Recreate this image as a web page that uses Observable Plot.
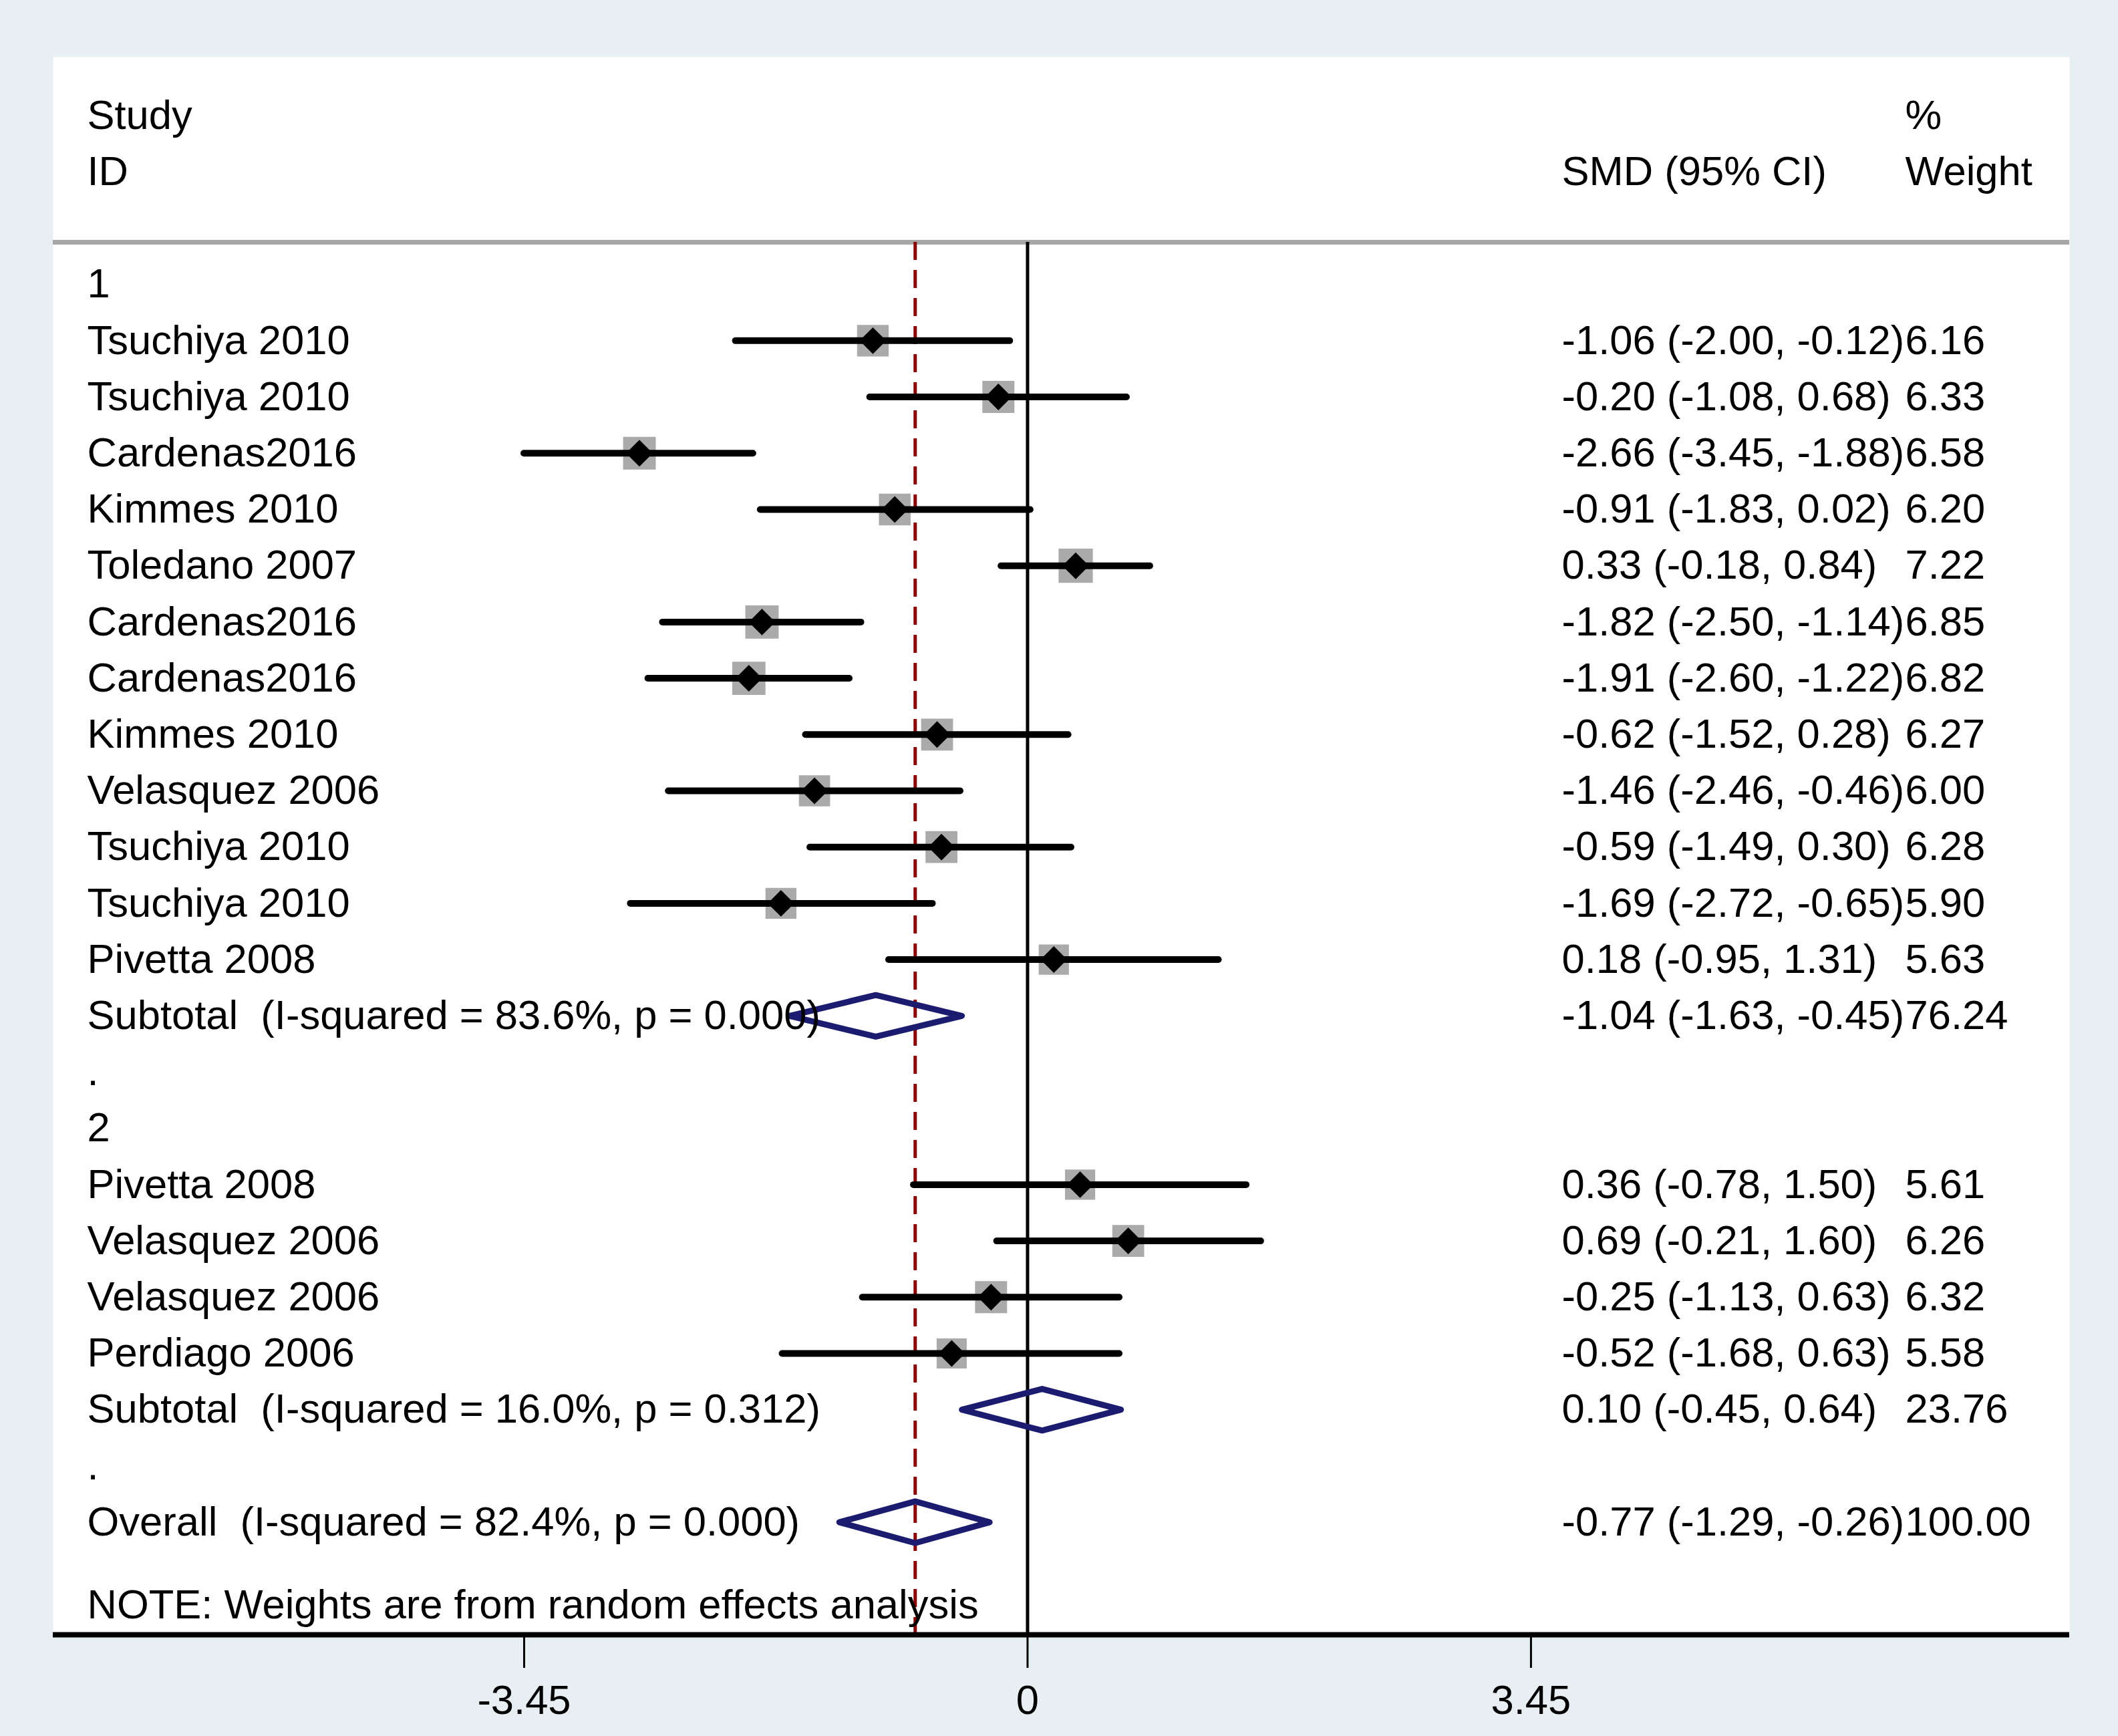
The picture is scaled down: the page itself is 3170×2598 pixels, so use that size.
<!DOCTYPE html>
<html>
<head>
<meta charset="utf-8">
<script src="https://cdn.jsdelivr.net/npm/d3@7"></script>
<script src="https://cdn.jsdelivr.net/npm/@observablehq/plot@0.6"></script>
<style>
  html, body { margin: 0; padding: 0; background: #e7eff2; }
</style>
</head>
<body>
<div id="chart"></div>
<script>
// ---- Study-level data (standardized mean differences, 95% CI, % weight) ----
const studyNames = [
  "Tsuchiya 2010", "Tsuchiya 2010", "Cardenas2016", "Kimmes 2010", "Toledano 2007",
  "Cardenas2016", "Cardenas2016", "Kimmes 2010", "Velasquez 2006", "Tsuchiya 2010",
  "Tsuchiya 2010", "Pivetta 2008",
  "Pivetta 2008", "Velasquez 2006", "Velasquez 2006", "Perdiago 2006"
];
const studyGroup = [1, 1, 1, 1, 1, 1, 1, 1, 1, 1, 1, 1, 2, 2, 2, 2];
const studySmd   = [-1.06, -0.20, -2.66, -0.91, 0.33, -1.82, -1.91, -0.62, -1.46, -0.59, -1.69, 0.18, 0.36, 0.69, -0.25, -0.52];
const studyLower = [-2.00, -1.08, -3.45, -1.83, -0.18, -2.50, -2.60, -1.52, -2.46, -1.49, -2.72, -0.95, -0.78, -0.21, -1.13, -1.68];
const studyUpper = [-0.12, 0.68, -1.88, 0.02, 0.84, -1.14, -1.22, 0.28, -0.46, 0.30, -0.65, 1.31, 1.50, 1.60, 0.63, 0.63];
const studyWeight = [6.16, 6.33, 6.58, 6.20, 7.22, 6.85, 6.82, 6.27, 6.00, 6.28, 5.90, 5.63, 5.61, 6.26, 6.32, 5.58];

// ---- Pooled estimates (subgroup 1, subgroup 2, overall) ----
const groups = [1, 2];
const subtotalLabels = [
  "Subtotal\u00a0\u00a0(I-squared = 83.6%, p = 0.000)",
  "Subtotal\u00a0\u00a0(I-squared = 16.0%, p = 0.312)"
];
const subtotalSmd    = [-1.04, 0.10];
const subtotalLower  = [-1.63, -0.45];
const subtotalUpper  = [-0.45, 0.64];
const subtotalWeight = [76.24, 23.76];

const overallLabel  = "Overall\u00a0\u00a0(I-squared = 82.4%, p = 0.000)";
const overallSmd    = -0.77;
const overallLower  = -1.29;
const overallUpper  = -0.26;
const overallWeight = 100.00;

const noteText = "NOTE: Weights are from random effects analysis";
const xTicks = [-3.45, 0, 3.45];

// ---- Build the table rows (row index runs top to bottom) ----
const f2 = v => v.toFixed(2);
const ciText = (e, lo, hi) => `${f2(e)} (${f2(lo)}, ${f2(hi)})`;

const rows = [];
const studies = [];
const pooled = [];
let r = 0;
groups.forEach((g, gi) => {
  rows.push({row: r++, label: String(g)});
  studyNames.forEach((name, i) => {
    if (studyGroup[i] !== g) return;
    const d = {row: r++, label: name, smd: studySmd[i], lo: studyLower[i], hi: studyUpper[i], w: studyWeight[i]};
    rows.push(d);
    studies.push(d);
  });
  const s = {row: r++, label: subtotalLabels[gi], smd: subtotalSmd[gi], lo: subtotalLower[gi], hi: subtotalUpper[gi], w: subtotalWeight[gi]};
  rows.push(s);
  pooled.push(s);
  rows.push({row: r++, label: "."});
});
const overall = {row: r++, label: overallLabel, smd: overallSmd, lo: overallLower, hi: overallUpper, w: overallWeight};
rows.push(overall);
pooled.push(overall);
rows.push({row: overall.row + 1.48, label: noteText});

const valueRows = rows.filter(d => d.smd !== undefined)
  .map(d => ({row: d.row, ci: ciText(d.smd, d.lo, d.hi), w: f2(d.w)}));

// header lines above the rule
const headerLeft  = [{row: -3, text: "Study"}, {row: -2, text: "ID"}];
const headerCi    = [{row: -2, text: "SMD (95% CI)"}];
const headerW     = [{row: -3, text: "%"}, {row: -2, text: "Weight"}];

// summary diamonds as closed outlines
const diamondHalf = 0.37;
const diamondPts = pooled.flatMap((d, i) => [
  {id: i, x: d.lo,  y: d.row},
  {id: i, x: d.smd, y: d.row - diamondHalf},
  {id: i, x: d.hi,  y: d.row},
  {id: i, x: d.smd, y: d.row + diamondHalf},
  {id: i, x: d.lo,  y: d.row}
]);

const headerRule = -0.75;
const axisRow = 24;
const fs = 61.5;

const chart = Plot.plot({
  width: 3170,
  height: 2598,
  marginLeft: 79,
  marginRight: 73,
  marginTop: 85,
  marginBottom: 152,
  style: {
    background: "#e7eff2",
    fontFamily: "'Liberation Sans', Arial, sans-serif",
    fontSize: fs + "px",
    color: "black"
  },
  x: {domain: [-6.678, 7.141]},
  y: {domain: [axisRow, -4.04], axis: null},
  r: {type: "identity"},
  marks: [
    Plot.frame({fill: "white", stroke: "none"}),
    Plot.ruleY([headerRule], {stroke: "#a6a6a6", strokeWidth: 7}),
    Plot.ruleX([0], {y1: headerRule, y2: axisRow, stroke: "black", strokeWidth: 5}),
    Plot.ruleX([overallSmd], {y1: headerRule, y2: axisRow, stroke: "#8b0000", strokeWidth: 5, strokeDasharray: "27,15"}),
    // weight boxes
    Plot.dot(studies, {x: "smd", y: "row", r: d => 27 * Math.sqrt(d.w / 6.3), symbol: "square", fill: "#aaaaaa", stroke: "none"}),
    // confidence intervals
    Plot.ruleY(studies, {y: "row", x1: "lo", x2: "hi", stroke: "black", strokeWidth: 10, strokeLinecap: "round"}),
    // point estimates
    Plot.dot(studies, {x: "smd", y: "row", r: 18, symbol: "diamond2", fill: "black", stroke: "none"}),
    // pooled diamonds
    Plot.line(diamondPts, {x: "x", y: "y", z: "id", stroke: "#1b1b6f", strokeWidth: 9, strokeLinejoin: "round"}),
    // text columns
    Plot.text(headerLeft, {y: "row", text: "text", frameAnchor: "left", dx: 51, textAnchor: "start", fontSize: fs}),
    Plot.text(headerCi, {y: "row", text: "text", frameAnchor: "right", dx: -760, textAnchor: "start", fontSize: fs}),
    Plot.text(headerW, {y: "row", text: "text", frameAnchor: "right", dx: -246, textAnchor: "start", fontSize: fs}),
    Plot.text(rows, {y: "row", text: "label", frameAnchor: "left", dx: 51, textAnchor: "start", fontSize: fs}),
    Plot.text(valueRows, {y: "row", text: "ci", frameAnchor: "right", dx: -760, textAnchor: "start", fontSize: fs}),
    Plot.text(valueRows, {y: "row", text: "w", frameAnchor: "right", dx: -246, textAnchor: "start", fontSize: fs}),
    // x axis
    Plot.ruleY([axisRow], {stroke: "black", strokeWidth: 8}),
    Plot.axisX({
      anchor: "bottom",
      ticks: xTicks,
      tickSize: 50,
      tickPadding: 25,
      fontSize: fs,
      strokeWidth: 3,
      tickFormat: d => String(d),
      label: null
    })
  ]
});

document.getElementById("chart").appendChild(chart);
</script>
</body>
</html>
